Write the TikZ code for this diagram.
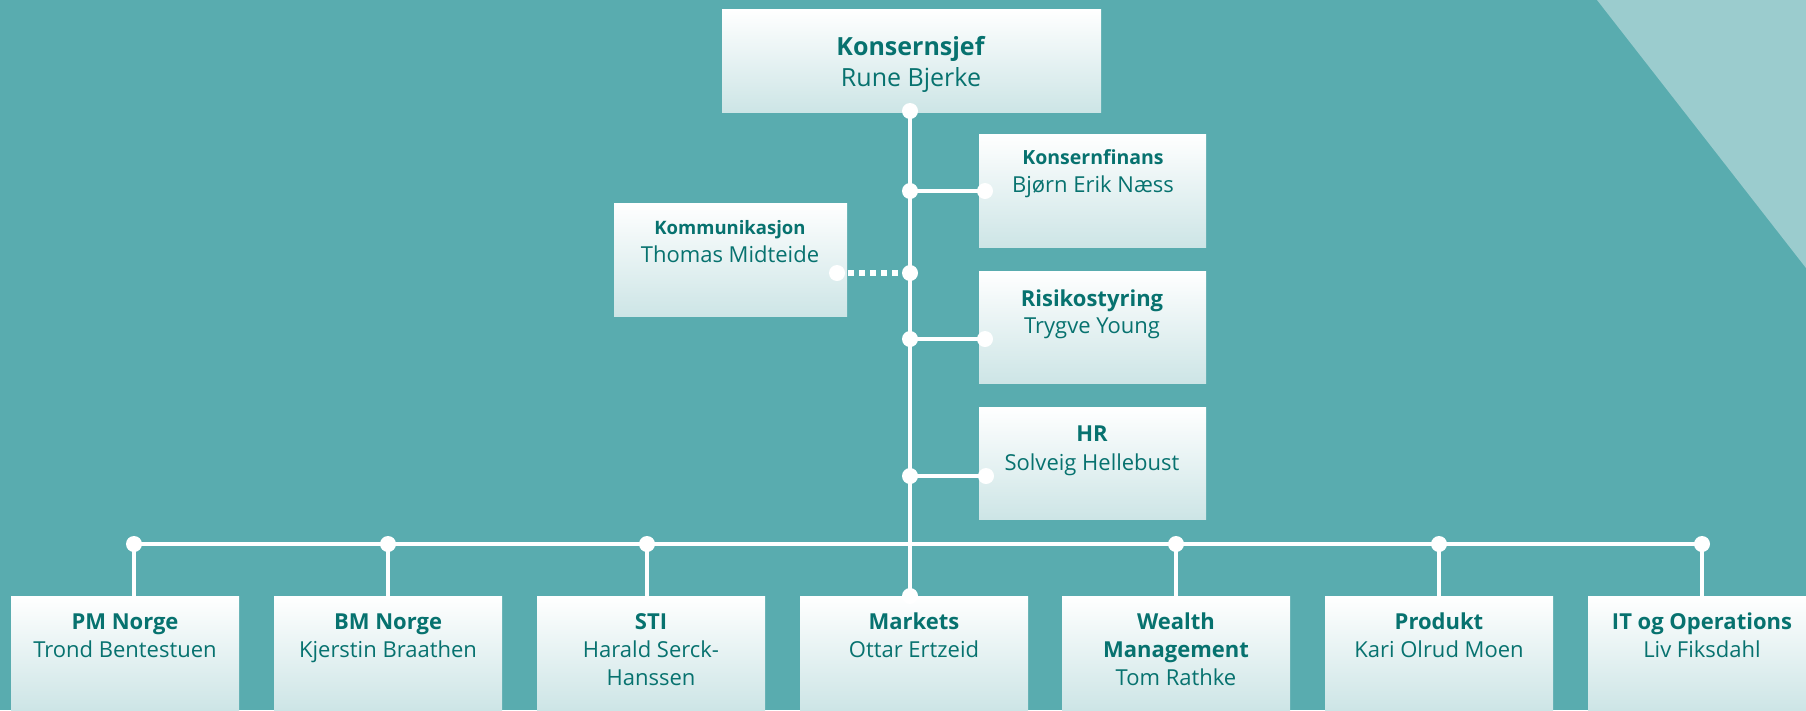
\documentclass[tikz,border=0pt]{standalone}
\usepackage{fontspec}
\setmainfont{Open Sans}
\definecolor{bg}{HTML}{59ACAF}
\definecolor{tri}{HTML}{9BCCCE}
\definecolor{boxb}{HTML}{CDE5E6}
\definecolor{txtc}{HTML}{07726F}
\tikzset{
 orgbox/.style={draw=none, top color=white, bottom color=boxb, minimum width=228pt, minimum height=114pt, anchor=north west, inner sep=0pt, outer sep=0pt},
 lbl/.style={text=txtc, align=center, inner sep=0pt, anchor=base, font=\fontsize{22}{28}\selectfont},
 wire/.style={draw=white, line width=4.5pt},
 dotwire/.style={draw=white, line width=6pt, dash pattern=on 6pt off 5pt},
 jdot/.style={circle, fill=white, minimum size=16pt, inner sep=0pt},
}
\begin{document}
\begin{tikzpicture}[x=1pt,y=-1pt]
\useasboundingbox (0,0) rectangle (1806,710);
\fill[bg] (0,0) rectangle (1806,710);
\fill[tri] (1597,0) -- (1806,0) -- (1806,268) -- cycle;

% boxes
\node[orgbox, minimum width=379pt, minimum height=103pt] (ceo) at (722,9) {};
\node[orgbox, minimum width=227pt, minimum height=113pt] (kf) at (979,134) {};
\node[orgbox, minimum width=233pt, minimum height=113pt] (kom) at (614,203) {};
\node[orgbox, minimum width=227pt, minimum height=112pt] (risk) at (979,271) {};
\node[orgbox, minimum width=227pt, minimum height=112pt] (hr) at (979,407) {};
\node[orgbox] (pm) at (11,596) {};
\node[orgbox] (bm) at (274,596) {};
\node[orgbox] (sti) at (537,596) {};
\node[orgbox] (mk) at (800,596) {};
\node[orgbox] (wm) at (1062,596) {};
\node[orgbox] (pr) at (1325,596) {};
\node[orgbox] (it) at (1588,596) {};

% texts (anchor = baseline of last line)
\node[lbl, font=\fontsize{25}{31}\selectfont] (ceo-t) at (911,86) {\textbf{Konsernsjef}\\Rune Bjerke};
\node[lbl] (kf-t) at (1093,192) {{\fontsize{19.5}{28}\selectfont\textbf{Konsernfinans}}\\Bjørn Erik Næss};
\node[lbl] (kom-t) at (730,262) {{\fontsize{18.5}{28}\selectfont\textbf{Kommunikasjon}}\\Thomas Midteide};
\node[lbl, font=\fontsize{22}{27}\selectfont] (risk-t) at (1092,333) {\textbf{Risikostyring}\\Trygve Young};
\node[lbl, font=\fontsize{22}{29}\selectfont] (hr-t) at (1092,470) {\textbf{HR}\\Solveig Hellebust};
\node[lbl] (pm-t) at (125,657) {\textbf{PM Norge}\\Trond Bentestuen};
\node[lbl] (bm-t) at (388,657) {\textbf{BM Norge}\\Kjerstin Braathen};
\node[lbl] (sti-t) at (651,685) {\textbf{STI}\\Harald Serck-\\Hanssen};
\node[lbl] (mk-t) at (914,657) {\textbf{Markets}\\Ottar Ertzeid};
\node[lbl] (wm-t) at (1176,685) {\textbf{Wealth}\\\textbf{Management}\\Tom Rathke};
\node[lbl] (pr-t) at (1439,657) {\textbf{Produkt}\\Kari Olrud Moen};
\node[lbl] (it-t) at (1702,657) {\textbf{IT og Operations}\\Liv Fiksdahl};

% junction points
\coordinate (top) at (910,111);
\coordinate (jkf) at (910,191);
\coordinate (ekf) at (985,191);
\coordinate (jkom) at (910,273);
\coordinate (ekom) at (837,273);
\coordinate (jrisk) at (910,339);
\coordinate (erisk) at (985,339);
\coordinate (jhr) at (910,476);
\coordinate (ehr) at (986,476);
\coordinate (bpm) at (134,544);
\coordinate (bbm) at (388,544);
\coordinate (bsti) at (647,544);
\coordinate (bwm) at (1176,544);
\coordinate (bpr) at (1439,544);
\coordinate (bit) at (1702,544);
\coordinate (emk) at (910,596);

% connectors
\draw[wire] (top) -- (emk);
\draw[wire] (jkf) -- (ekf);
\draw[wire] (jrisk) -- (erisk);
\draw[wire] (jhr) -- (ehr);
\draw[dotwire] (ekom) -- (jkom);
\draw[wire] (bpm) -- (bit);
\draw[wire] (bpm) -- (bpm |- pm.north);
\draw[wire] (bbm) -- (bbm |- bm.north);
\draw[wire] (bsti) -- (bsti |- sti.north);
\draw[wire] (bwm) -- (bwm |- wm.north);
\draw[wire] (bpr) -- (bpr |- pr.north);
\draw[wire] (bit) -- (bit |- it.north);

% dots
\foreach \p in {top,jkf,ekf,jkom,ekom,jrisk,erisk,jhr,ehr,bpm,bbm,bsti,bwm,bpr,bit,emk}
  \node[jdot] at (\p) {};
\end{tikzpicture}
\end{document}
